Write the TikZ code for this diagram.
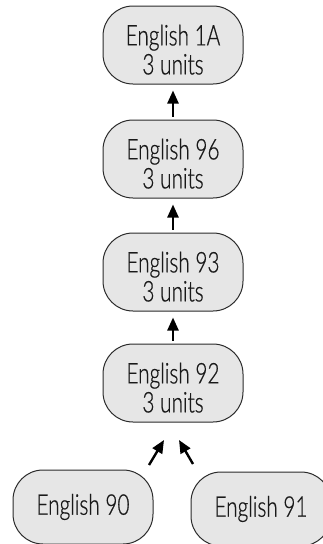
\documentclass[tikz,border=0pt]{standalone}
\usepackage{fontspec}
\IfFontExistsTF{Lato Light}{\setmainfont[FakeStretch=0.73,FakeBold=0.6]{Lato Light}}{\setmainfont[FakeStretch=0.73]{Lato}}
\usetikzlibrary{arrows.meta}
\definecolor{boxfill}{HTML}{E6E6E6}
\definecolor{boxline}{HTML}{2A2A2A}
\newcommand{\dn}{\rule{0pt}{30pt}}
\tikzset{
  course/.style={draw=boxline, line width=1pt, fill=boxfill, rounded corners=30pt,
    minimum width=140pt, minimum height=78pt, align=center, inner sep=0pt,
    font=\fontsize{28.5}{29}\selectfont, text=black!90},
  arr/.style={line width=2.4pt, -{Triangle[length=13pt,width=11pt]}, draw=black}
}
\begin{document}
\begin{tikzpicture}[x=1pt,y=-1pt]
\useasboundingbox (0,0) rectangle (322,544);
\node[course] (e1a) at (173,45) {\dn English 1A\\3 units};
\node[course] (e96) at (173,159) {\dn English 96\\3 units};
\node[course] (e93) at (173,272) {\dn English 93\\3 units};
\node[course] (e92) at (173,383) {\dn English 92\\3 units};
\node[course, minimum height=74pt] (e90) at (83,507) {English 90};
\node[course, minimum height=74pt] (e91) at (261,509) {English 91};
\draw[arr, shorten <=3pt, shorten >=6pt] (e96) -- (e1a);
\draw[arr, shorten <=3pt, shorten >=6pt] (e93) -- (e96);
\draw[arr, shorten <=3pt, shorten >=6pt] (e92) -- (e93);
\coordinate (t90) at (149,465);
\coordinate (h90) at (164,440);
\coordinate (t91) at (193,464);
\coordinate (h91) at (179,440);
\draw[arr] (t90) -- (h90);
\draw[arr] (t91) -- (h91);
\end{tikzpicture}
\end{document}
